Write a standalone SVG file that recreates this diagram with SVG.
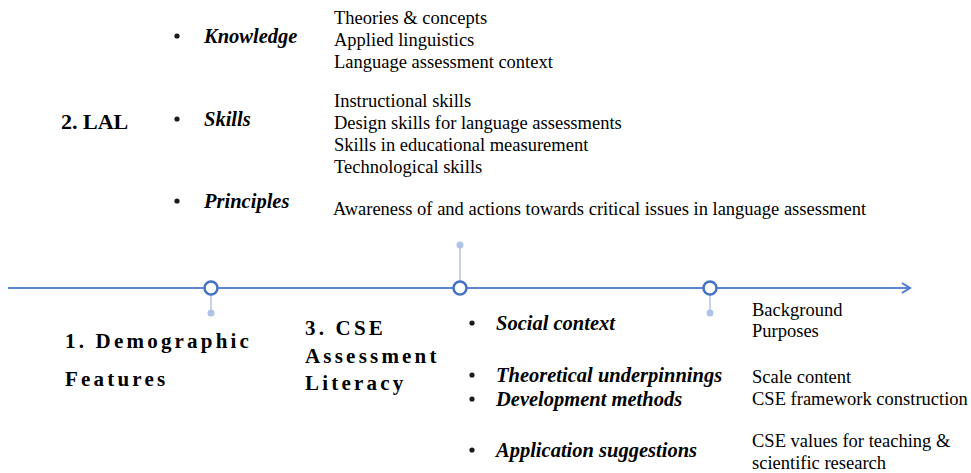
<svg xmlns="http://www.w3.org/2000/svg" width="971" height="473" viewBox="0 0 971 473">
  <g id="connectors">
    <line x1="8" y1="288" x2="908" y2="288" stroke="#5B86D6" stroke-width="2"/>
    <polyline points="902,283 910,288 902,293" fill="none" stroke="#4A78CF" stroke-width="2"/>
    <line x1="211" y1="288" x2="211" y2="312" stroke="#AFC3E8" stroke-width="1.5"/>
    <line x1="460" y1="288" x2="460" y2="246" stroke="#AFC3E8" stroke-width="1.5"/>
    <line x1="710" y1="288" x2="710" y2="312" stroke="#AFC3E8" stroke-width="1.5"/>
    <circle cx="211" cy="313" r="3.5" fill="#AFC3E8"/>
    <circle cx="460" cy="245" r="3.5" fill="#AFC3E8"/>
    <circle cx="710" cy="313" r="3.5" fill="#AFC3E8"/>
  </g>

  <g id="milestone-1">
    <circle cx="211" cy="288" r="6.5" fill="#fff" stroke="#4472C4" stroke-width="2.5"/>
  </g>
  <g id="milestone-2">
    <circle cx="460" cy="288" r="6.5" fill="#fff" stroke="#4472C4" stroke-width="2.5"/>
  </g>
  <g id="milestone-3">
    <circle cx="710" cy="288" r="6.5" fill="#fff" stroke="#4472C4" stroke-width="2.5"/>
  </g>

  <g id="lal">
    <text x="61" y="129" font-family="Liberation Serif" font-size="22" font-weight="bold">2. LAL</text>
    <circle cx="177" cy="36" r="2.6" fill="#1a1a1a"/>
    <circle cx="177" cy="119" r="2.6" fill="#1a1a1a"/>
    <circle cx="177" cy="201" r="2.6" fill="#1a1a1a"/>
    <text x="204" y="43" font-family="Liberation Serif" font-size="20.5" font-weight="bold" font-style="italic">Knowledge</text>
    <text x="204" y="126" font-family="Liberation Serif" font-size="20.5" font-weight="bold" font-style="italic">Skills</text>
    <text x="204" y="208" font-family="Liberation Serif" font-size="20.5" font-weight="bold" font-style="italic">Principles</text>
    <text x="334" y="24" font-family="Liberation Serif" font-size="18.5">Theories &amp; concepts</text>
    <text x="334" y="46" font-family="Liberation Serif" font-size="18.5">Applied linguistics</text>
    <text x="334" y="68" font-family="Liberation Serif" font-size="18.5">Language assessment context</text>
    <text x="334" y="107" font-family="Liberation Serif" font-size="18.5">Instructional skills</text>
    <text x="334" y="129" font-family="Liberation Serif" font-size="18.5">Design skills for language assessments</text>
    <text x="334" y="151" font-family="Liberation Serif" font-size="18.5">Skills in educational measurement</text>
    <text x="334" y="173" font-family="Liberation Serif" font-size="18.5">Technological skills</text>
    <text x="333" y="215" font-family="Liberation Serif" font-size="18.5">Awareness of and actions towards critical issues in language assessment</text>
  </g>

  <g id="demographic">
    <text x="65" y="348" font-family="Liberation Serif" font-size="21" font-weight="bold" letter-spacing="3.2">1. Demographic</text>
    <text x="65" y="386" font-family="Liberation Serif" font-size="21" font-weight="bold" letter-spacing="3.2">Features</text>
  </g>

  <g id="cse">
    <text x="305" y="335" font-family="Liberation Serif" font-size="21" font-weight="bold" letter-spacing="3.2">3. CSE</text>
    <text x="305" y="363" font-family="Liberation Serif" font-size="21" font-weight="bold" letter-spacing="3.2">Assessment</text>
    <text x="305" y="390" font-family="Liberation Serif" font-size="21" font-weight="bold" letter-spacing="3.2">Literacy</text>
    <circle cx="472" cy="323" r="2.6" fill="#1a1a1a"/>
    <circle cx="472" cy="375" r="2.6" fill="#1a1a1a"/>
    <circle cx="472" cy="399" r="2.6" fill="#1a1a1a"/>
    <circle cx="472" cy="450" r="2.6" fill="#1a1a1a"/>
    <text x="496" y="330" font-family="Liberation Serif" font-size="20.5" font-weight="bold" font-style="italic">Social context</text>
    <text x="496" y="382" font-family="Liberation Serif" font-size="20.5" font-weight="bold" font-style="italic">Theoretical underpinnings</text>
    <text x="496" y="406" font-family="Liberation Serif" font-size="20.5" font-weight="bold" font-style="italic">Development methods</text>
    <text x="496" y="457" font-family="Liberation Serif" font-size="20.5" font-weight="bold" font-style="italic">Application suggestions</text>
    <text x="752" y="316" font-family="Liberation Serif" font-size="18.5">Background</text>
    <text x="752" y="337" font-family="Liberation Serif" font-size="18.5">Purposes</text>
    <text x="752" y="383" font-family="Liberation Serif" font-size="18.5">Scale content</text>
    <text x="752" y="405" font-family="Liberation Serif" font-size="18.5">CSE framework construction</text>
    <text x="752" y="447" font-family="Liberation Serif" font-size="18.5">CSE values for teaching &amp;</text>
    <text x="752" y="469" font-family="Liberation Serif" font-size="18.5">scientific research</text>
  </g>
</svg>
